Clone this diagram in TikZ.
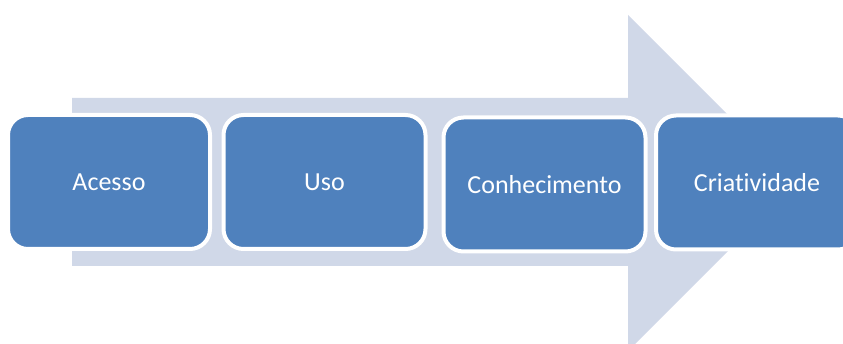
\documentclass[tikz,border=0pt]{standalone}
\usepackage{fontspec}
\setmainfont[Ligatures=NoCommon]{Carlito}
\definecolor{stepblue}{HTML}{4F81BD}
\definecolor{arrowgrey}{HTML}{D0D8E8}
\begin{document}
\begin{tikzpicture}[x=1pt,y=-1pt,
  stagebox/.style={rectangle, rounded corners=20pt, fill=stepblue, draw=white,
    line width=4pt, inner sep=0pt, minimum width=202pt, minimum height=134pt,
    text=white, font=\fontsize{26}{30}\selectfont}]
\useasboundingbox (0,0) rectangle (843,344);
\clip (0,0) rectangle (843,344);
% broad background arrow
\fill[arrowgrey] (72,98) -- (628,98) -- (628,15) -- (796,183) -- (628,351)
  -- (628,266) -- (72,266) -- cycle;
% the four stages
\node[stagebox] (acesso) at (109,182) {Acesso};
\node[stagebox] (uso) at (324.5,182) {Uso};
\node[stagebox] (conhecimento) at (544.5,184.5) {Conhecimento};
\node[stagebox] (criatividade) at (757,182.5) {Criatividade};
\end{tikzpicture}
\end{document}
